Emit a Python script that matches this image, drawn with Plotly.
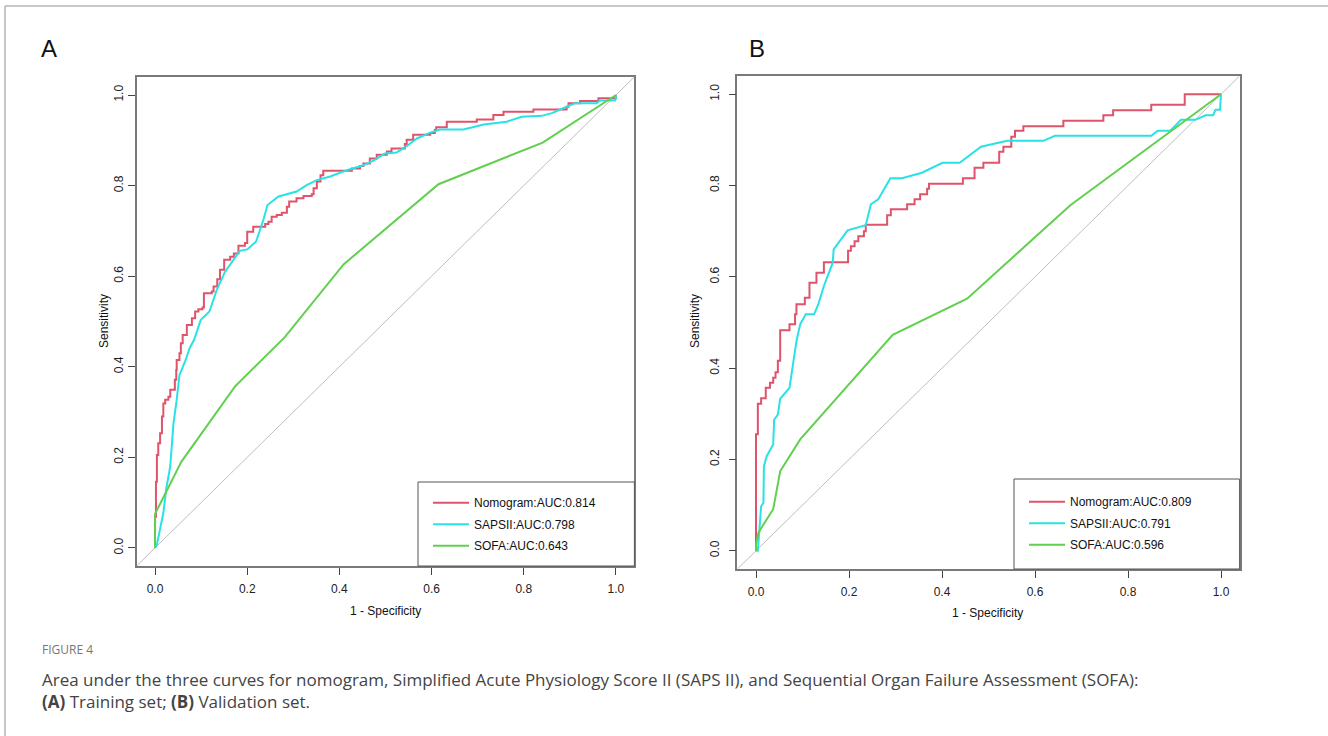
import plotly.graph_objects as go

# ---------------- data ----------------
TICKS = [0.0, 0.2, 0.4, 0.6, 0.8, 1.0]
TICK_LABELS = ["0.0", "0.2", "0.4", "0.6", "0.8", "1.0"]
AXIS_RANGE = [-0.04, 1.04]

SERIES_NAMES = ["Nomogram", "SAPSII", "SOFA"]
AUC_A = ["0.814", "0.798", "0.643"]
AUC_B = ["0.809", "0.791", "0.596"]

# Panel A (training set)
nomo_a_fpr = [0, 0, 0.002, 0.004, 0.007, 0.011, 0.015, 0.018, 0.022, 0.029, 0.033, 0.043, 0.046, 0.047,
              0.053, 0.056, 0.060, 0.069, 0.080, 0.087, 0.094, 0.103, 0.106, 0.123, 0.127, 0.135, 0.141,
              0.150, 0.163, 0.171, 0.181, 0.195, 0.200, 0.213, 0.239, 0.246, 0.253, 0.264, 0.275, 0.286,
              0.291, 0.307, 0.322, 0.340, 0.344, 0.351, 0.359, 0.365, 0.427, 0.445, 0.452, 0.466, 0.481,
              0.503, 0.513, 0.542, 0.546, 0.560, 0.597, 0.607, 0.610, 0.633, 0.698, 0.734, 0.756, 0.821,
              0.893, 0.897, 0.922, 0.962, 1.0]
nomo_a_tpr = [0, 0.069, 0.146, 0.205, 0.231, 0.253, 0.290, 0.319, 0.327, 0.334, 0.349, 0.371, 0.393, 0.415,
              0.430, 0.452, 0.470, 0.492, 0.507, 0.522, 0.527, 0.531, 0.562, 0.566, 0.577, 0.593, 0.614,
              0.636, 0.643, 0.650, 0.667, 0.673, 0.698, 0.709, 0.715, 0.720, 0.731, 0.735, 0.740, 0.753,
              0.765, 0.772, 0.777, 0.781, 0.794, 0.809, 0.823, 0.833, 0.838, 0.843, 0.849, 0.860, 0.868,
              0.875, 0.882, 0.892, 0.901, 0.912, 0.916, 0.923, 0.929, 0.941, 0.946, 0.956, 0.963, 0.968,
              0.974, 0.982, 0.987, 0.993, 1.0]

saps_a_fpr = [0, 0.004, 0.018, 0.025, 0.033, 0.040, 0.047, 0.053, 0.065, 0.075, 0.085, 0.099, 0.118, 0.134,
              0.152, 0.177, 0.184, 0.200, 0.219, 0.235, 0.244, 0.268, 0.307, 0.329, 0.351, 0.380, 0.416,
              0.452, 0.474, 0.499, 0.524, 0.546, 0.568, 0.597, 0.618, 0.669, 0.713, 0.763, 0.795, 0.839,
              0.861, 0.893, 0.911, 0.958, 0.965, 0.998, 1.0, 1.0]
saps_a_tpr = [0, 0.007, 0.077, 0.135, 0.180, 0.275, 0.327, 0.382, 0.411, 0.441, 0.460, 0.503, 0.522, 0.570,
              0.610, 0.647, 0.656, 0.659, 0.676, 0.724, 0.757, 0.776, 0.787, 0.801, 0.812, 0.820, 0.834,
              0.845, 0.855, 0.871, 0.873, 0.887, 0.904, 0.917, 0.924, 0.924, 0.935, 0.941, 0.952, 0.954,
              0.960, 0.974, 0.982, 0.982, 0.988, 0.988, 0.993, 1.0]

sofa_a_fpr = [0, 0, 0.057, 0.174, 0.282, 0.409, 0.615, 0.841, 1.0]
sofa_a_tpr = [0, 0.075, 0.190, 0.357, 0.466, 0.626, 0.803, 0.895, 1.0]

# Panel B (validation set)
nomo_b_fpr = [0, 0, 0.004, 0.011, 0.021, 0.030, 0.037, 0.042, 0.047, 0.052, 0.072, 0.084, 0.087, 0.105,
              0.115, 0.130, 0.146, 0.198, 0.204, 0.212, 0.220, 0.232, 0.236, 0.282, 0.290, 0.325, 0.341,
              0.353, 0.368, 0.372, 0.445, 0.470, 0.489, 0.523, 0.532, 0.549, 0.557, 0.575, 0.661, 0.747,
              0.768, 0.850, 0.922, 1.0]
nomo_b_tpr = [0, 0.255, 0.322, 0.334, 0.357, 0.368, 0.379, 0.391, 0.416, 0.483, 0.496, 0.518, 0.540, 0.554,
              0.587, 0.609, 0.632, 0.657, 0.667, 0.678, 0.689, 0.700, 0.714, 0.735, 0.748, 0.759, 0.770,
              0.781, 0.793, 0.804, 0.816, 0.839, 0.850, 0.874, 0.885, 0.907, 0.920, 0.930, 0.942, 0.954,
              0.965, 0.977, 1.0, 1.0]

saps_b_fpr = [0, 0.004, 0.011, 0.016, 0.017, 0.023, 0.037, 0.039, 0.047, 0.052, 0.072, 0.084, 0.087, 0.095,
              0.107, 0.125, 0.134, 0.146, 0.165, 0.167, 0.197, 0.236, 0.247, 0.263, 0.289, 0.314, 0.357,
              0.401, 0.438, 0.484, 0.540, 0.618, 0.643, 0.850, 0.864, 0.891, 0.914, 0.945, 0.967, 0.983,
              0.988, 0.998, 1.0]
saps_b_tpr = [0, 0.0, 0.097, 0.105, 0.185, 0.207, 0.233, 0.287, 0.298, 0.333, 0.357, 0.448, 0.459, 0.496,
              0.518, 0.518, 0.540, 0.580, 0.631, 0.660, 0.702, 0.713, 0.759, 0.770, 0.816, 0.816, 0.828,
              0.850, 0.850, 0.885, 0.898, 0.898, 0.909, 0.909, 0.920, 0.920, 0.944, 0.944, 0.954, 0.954,
              0.966, 0.966, 1.0]

sofa_b_fpr = [0, 0, 0.005, 0.009, 0.037, 0.052, 0.095, 0.294, 0.454, 0.676, 1.0]
sofa_b_tpr = [0, 0.013, 0.039, 0.046, 0.091, 0.174, 0.244, 0.473, 0.552, 0.757, 1.0]

# ---------------- styling ----------------
W, H = 1328, 736
COLORS = ["#DF536B", "#28E2E5", "#61D04F"]
SHAPES = ["hv", "linear", "linear"]
FONT = "Liberation Sans, Arial, sans-serif"
CAP_FONT = "Open Sans, Lato, sans-serif"


def fx(p):
    return p / W


def fy(p):
    return 1 - p / H


DOM_A_X = [fx(136.6), fx(634.4)]
DOM_A_Y = [fy(566.0), fy(76.9)]
DOM_B_X = [fx(737.4), fx(1239.6)]
DOM_B_Y = [fy(569.0), fy(76.0)]

fig = go.Figure()

panels = [
    ("x", "y", "legend", AUC_A,
     [(nomo_a_fpr, nomo_a_tpr), (saps_a_fpr, saps_a_tpr), (sofa_a_fpr, sofa_a_tpr)]),
    ("x2", "y2", "legend2", AUC_B,
     [(nomo_b_fpr, nomo_b_tpr), (saps_b_fpr, saps_b_tpr), (sofa_b_fpr, sofa_b_tpr)]),
]

for xa, ya, leg, aucs, curves in panels:
    # chance diagonal across the whole plotting region
    fig.add_trace(go.Scatter(x=AXIS_RANGE, y=AXIS_RANGE, xaxis=xa, yaxis=ya, mode="lines",
                             line=dict(color="#BEBEBE", width=1), showlegend=False,
                             hoverinfo="skip"))
    for i, (fpr, tpr) in enumerate(curves):
        fig.add_trace(go.Scatter(
            x=fpr, y=tpr, xaxis=xa, yaxis=ya, mode="lines",
            line=dict(color=COLORS[i], width=2, shape=SHAPES[i]),
            name=f"{SERIES_NAMES[i]}:AUC:{aucs[i]}",
            legend=leg, legendgroup=f"{leg}{i}",
        ))

axis_common = dict(
    range=AXIS_RANGE, showline=True, mirror=True, linecolor="#7a7a7a", linewidth=1.5,
    ticks="outside", ticklen=7, tickwidth=1, tickcolor="#444",
    tickvals=TICKS, ticktext=TICK_LABELS, showgrid=False, zeroline=False,
    tickfont=dict(family=FONT, size=12, color="#222"), fixedrange=True,
)

legend_common = dict(
    xanchor="left", yanchor="top", borderwidth=0, bgcolor="rgba(0,0,0,0)",
    font=dict(family=FONT, size=12, color="#111"), tracegroupgap=2.5, traceorder="grouped",
    itemwidth=36,
)

fig.update_layout(
    width=W, height=H, autosize=False,
    margin=dict(l=0, r=0, t=0, b=0),
    paper_bgcolor="white", plot_bgcolor="white",
    xaxis=dict(domain=DOM_A_X, anchor="y", ticklabelstandoff=4, **axis_common),
    yaxis=dict(domain=DOM_A_Y, anchor="x", tickangle=-90, ticklabelstandoff=0, **axis_common),
    xaxis2=dict(domain=DOM_B_X, anchor="y2", ticklabelstandoff=4, **axis_common),
    yaxis2=dict(domain=DOM_B_Y, anchor="x2", tickangle=-90, ticklabelstandoff=5, **axis_common),
    legend=dict(x=fx(428), y=fy(488.2), **legend_common),
    legend2=dict(x=fx(1024), y=fy(487.2), **legend_common),
    showlegend=True,
)

annotations = [
    dict(text="A", x=fx(49), y=fy(49), font=dict(family=FONT, size=24, color="#111")),
    dict(text="B", x=fx(757), y=fy(49), font=dict(family=FONT, size=24, color="#111")),
    dict(text="1 - Specificity", x=fx(385), y=fy(611), font=dict(family=FONT, size=12, color="#111")),
    dict(text="1 - Specificity", x=fx(987), y=fy(613), font=dict(family=FONT, size=12, color="#111")),
    dict(text="Sensitivity", x=fx(104), y=fy(321), textangle=-90,
         font=dict(family=FONT, size=12, color="#111")),
    dict(text="Sensitivity", x=fx(695), y=fy(321), textangle=-90,
         font=dict(family=FONT, size=12, color="#111")),
]
for a in annotations:
    a.update(xref="paper", yref="paper", showarrow=False, xanchor="center", yanchor="middle")

captions = [
    dict(text="FIGURE 4", x=fx(40), y=fy(649), font=dict(family=CAP_FONT, size=12, color="#777")),
    dict(text="Area under the three curves for nomogram, Simplified Acute Physiology Score II (SAPS II), "
              "and Sequential Organ Failure Assessment (SOFA):",
         x=fx(40), y=fy(679), font=dict(family=CAP_FONT, size=17, color="#444")),
    dict(text="<b>(A)</b> Training set; <b>(B)</b> Validation set.",
         x=fx(40), y=fy(701), font=dict(family=CAP_FONT, size=17, color="#444")),
]
for a in captions:
    a.update(xref="paper", yref="paper", showarrow=False, xanchor="left", yanchor="middle")

fig.update_layout(annotations=annotations + captions)

frame_line = dict(color="#b5b5b5", width=1.5)
legend_frame = dict(color="#555", width=1)
fig.update_layout(shapes=[
    # light page frame (top and left edges)
    dict(type="line", xref="paper", yref="paper", x0=fx(5), y0=fy(736), x1=fx(5), y1=fy(6),
         line=frame_line),
    dict(type="line", xref="paper", yref="paper", x0=fx(5), y0=fy(6), x1=1, y1=fy(6),
         line=frame_line),
    # legend boxes
    dict(type="rect", xref="paper", yref="paper", x0=fx(418), y0=DOM_A_Y[0], x1=DOM_A_X[1], y1=fy(482),
         line=legend_frame, fillcolor="white", layer="above"),
    dict(type="rect", xref="paper", yref="paper", x0=fx(1014), y0=DOM_B_Y[0], x1=DOM_B_X[1], y1=fy(479),
         line=legend_frame, fillcolor="white", layer="above"),
])

fig.write_html("out.html")
